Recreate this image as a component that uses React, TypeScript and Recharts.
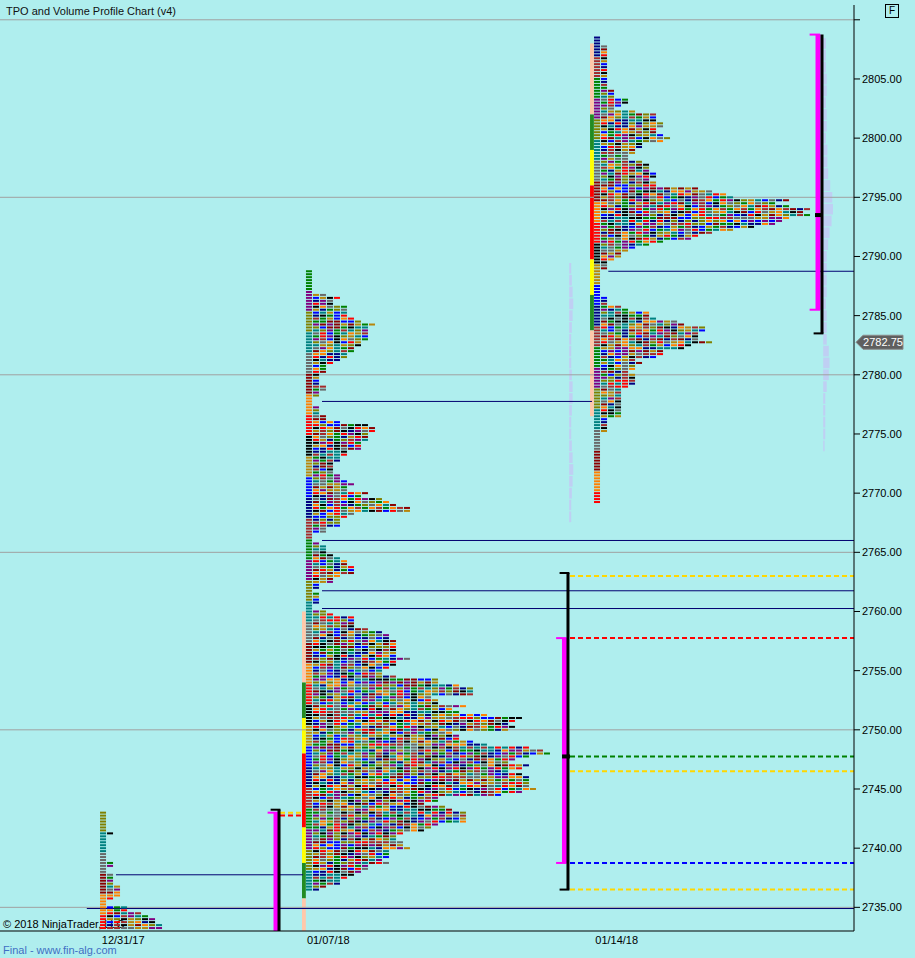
import { ComposedChart, Scatter, XAxis, YAxis, ReferenceLine, ReferenceArea } from "recharts";

const W = 915;
const H = 958;
const BG = "#AFEEEE";
const FONT = "'Liberation Sans', Arial, sans-serif";

// price scale
const PRICE_MIN = 2733;
const PRICE_MAX = 2811.25;
const TICK = 0.25;
const PRICE_TICKS = [2735, 2740, 2745, 2750, 2755, 2760, 2765, 2770, 2775, 2780, 2785, 2790, 2795, 2800, 2805, 2810];
const GRID_LEVELS = [2735, 2750, 2765, 2780, 2795, 2810];
const LAST_PRICE = 2782.75;

// x is measured in TPO columns
const X_MAX = 122;
const DATE_LABELS = ["12/31/17", "01/07/18", "01/14/18"];
const DATE_POS = [17.6, 46.9, 88.1];

// sessions: first TPO column and the highest price row
const SESSION_START = [14.29, 43.71, 84.86];
const SESSION_HIGH = [2743.0, 2788.75, 2808.5];

// TPO count per 0.25 row, top row first
const P1_ROWS = [1, 1, 1, 1, 1, 1, 1, 2, 1, 1, 1, 1, 1, 1, 1, 1, 1, 2, 2, 1, 1, 2, 2, 2, 2, 3, 3, 3, 3, 2, 1, 1, 4, 4, 6, 7, 8, 8, 9, 9];

const P2_ROWS = [
  1, 1, 1, 1, 1, 1, 1, 1, 3, 5, 4, 4, 6, 6, 6, 6, 7, 8, 10, 9, 9, 9, 9, 9, 8, 8, 7, 7, 6, 6, 5, 4, 3, 3, 3, 2, 2, 2, 2, 3, 3,
  2, 2, 1, 1, 1, 2, 2, 2, 3, 3, 5, 9, 10, 10, 9, 9, 9, 8, 8, 8, 6, 6, 5, 5, 4, 4, 4, 4, 5, 5, 6, 7, 6, 6, 9, 8, 11, 12, 13,
  15, 15, 7, 6, 5, 5, 5, 3, 3, 1, 1, 1, 2,
  3, 3, 3, 4, 5, 6, 6, 7, 7, 7, 5, 4, 4, 2, 2, 1, 2, 2, 2, 2, 1, 1,
  3, 4, 7, 7, 7, 7, 9, 11, 12, 12, 13, 13, 13, 13, 13, 13, 15, 13, 13, 12, 11, 11, 13, 19, 19, 22, 24, 24, 24, 18, 19, 19,
  23, 21, 22, 26, 31, 30, 29, 30, 29, 21, 22, 22, 24, 26, 32, 34, 35, 32, 30, 29, 32, 31, 29, 31, 32, 32, 32, 32, 33, 31,
  28, 19, 19, 17, 20, 21, 23, 23, 23, 23, 19, 18, 17, 14, 13, 13, 14, 14, 15, 12, 12, 12, 11, 12, 9, 9, 8, 7, 6, 5, 5, 3, 2,
];

const P3_ROWS = [
  1, 1, 1, 2, 2, 2, 2, 2, 2, 2, 2, 2, 2, 2, 2, 2, 2, 2, 3, 3, 3, 5, 5, 4, 3, 6, 9, 9, 9, 10, 10, 9, 9, 10, 11, 10, 7, 7, 6,
  6, 5, 5, 7, 8, 8, 8, 9, 9, 8, 9, 9, 15, 17, 19, 20, 28, 26, 28, 31, 30, 31, 28, 27, 26, 23, 20, 17, 15, 14, 10, 8, 6, 5,
  4, 4, 3, 2, 2, 2, 1, 1, 1, 1, 1, 1, 1, 1, 1, 2, 2, 2, 4, 5, 8, 8, 9, 12, 13, 16, 16, 15, 15, 15, 17, 14, 13, 10, 10, 9,
  6, 7, 6, 6, 5, 6, 6, 6, 6, 5, 4, 4, 4, 4, 4, 4, 4, 4, 4, 4, 2, 2, 2, 2, 2, 1, 1, 1, 1, 1, 1, 1, 1, 1, 1, 1, 1, 1, 1, 1,
  1, 1, 1, 1, 1, 1, 1, 1, 1,
];

// volume profile (in columns) per 1-point level, top level first
const VOL2_TOP = 2789;
const VOL2 = [0.3, 0.4, 0.5, 0.6, 0.5, 0.4, 0.3, 0.3, 0.3, 0.4, 0.5, 0.5, 0.4, 0.3, 0.3, 0.4, 0.5, 0.6, 0.5, 0.4, 0.3, 0.3];
const VOL3_TOP = 2808;
const VOL3 = [
  0.4, 0.4, 0.4, 0.5, 0.5, 0.4, 0.5, 0.5, 0.4, 0.6, 0.6, 0.7, 1.0, 1.3, 1.4, 1.2, 0.9, 0.7, 0.5, 0.5, 0.5, 0.5, 0.4, 0.5,
  0.5, 0.5, 0.8, 0.9, 0.8, 0.5, 0.3, 0.3, 0.3, 0.3, 0.2,
];
const VOL_START = [81.3, 117.6];

// opening / value area strip boundaries (price), top to bottom
const P2_STRIP = [2760, 2754, 2751, 2748, 2741.75, 2738.75, 2735.75, 2733];
const P3_STRIP = [2808, 2802, 2799, 2796, 2789.75, 2786.75, 2783.75, 2776.5];

// value area (magenta) and range (black) brackets: x, high, low
const VA_BRACKETS = [
  { x: 39.43, hi: 2743.0, lo: 2733 },
  { x: 80.64, hi: 2757.75, lo: 2738.75 },
  { x: 116.86, hi: 2808.75, lo: 2785.5 },
];
const RANGE_BRACKETS = [
  { x: 39.86, hi: 2743.25, lo: 2733 },
  { x: 81.14, hi: 2763.25, lo: 2736.5 },
  { x: 117.43, hi: 2808.75, lo: 2783.5 },
];

// dashed levels projected to the right
const P1_LEVELS = [2743.0, 2742.75];
const P2_LEVELS = [2763.0, 2757.75, 2747.75, 2746.5, 2738.75, 2736.5];

// untested (naked) levels
const NAKED_LEVELS = [
  { price: 2788.75, from: 86.9, to: X_MAX },
  { price: 2777.75, from: 46, to: 84.57 },
  { price: 2766.0, from: 46, to: X_MAX },
  { price: 2761.75, from: 46, to: X_MAX },
  { price: 2760.25, from: 46, to: X_MAX },
  { price: 2737.75, from: 16.57, to: 43.29 },
  { price: 2734.9, from: 12.4, to: X_MAX },
];

// POC markers
const POC_MARKS = [
  { price: 2747.75, from: 80.29, to: 81.43 },
  { price: 2793.5, from: 116.43, to: 117.57 },
];

const TPO_COLORS = [
  "#FF0000", "#808000", "#0000FF", "#8B0000", "#008000", "#000000", "#008080",
  "#000080", "#FF8000", "#800080", "#B8860B", "#696969", "#A52A2A",
];
const STRIP_COLORS = ["#FFC8AA", "#228B22", "#FFFF00", "#FF0000", "#FFFF00", "#228B22", "#FFC8AA"];
const P1_LEVEL_COLORS = ["#FFD700", "#FF0000"];
const P2_LEVEL_COLORS = ["#FFD700", "#FF0000", "#008000", "#FFD700", "#0000FF", "#FFD700"];

function cellColor(p: number, r: number, c: number) {
  if (c === 0) return TPO_COLORS[(Math.floor(r / 7) * 5 + p * 3 + 1) % TPO_COLORS.length];
  const h = (r * 37 + c * 61 + ((r * c) % 11) * 7 + p * 13) % TPO_COLORS.length;
  return TPO_COLORS[h];
}

function buildCells(p: number, rows: number[]) {
  const out: { x: number; y: number; fill: string }[] = [];
  rows.forEach((w, r) => {
    for (let c = 0; c < w; c++) {
      out.push({ x: SESSION_START[p] + c, y: SESSION_HIGH[p] - r * TICK, fill: cellColor(p, r, c) });
    }
  });
  return out;
}

const PROFILES = [P1_ROWS, P2_ROWS, P3_ROWS].map((rows, p) => buildCells(p, rows));

const Cell = (props: any) => {
  const { cx, cy, payload } = props;
  if (cx == null || cy == null) return null;
  return <rect x={cx} y={cy - 1} width={6} height={2} fill={payload.fill} />;
};

const PriceTag = (props: any) => {
  const vb = props.viewBox || {};
  const x0 = vb.x + vb.width + 2;
  const y0 = vb.y;
  return (
    <g>
      <polygon
        points={`${x0},${y0} ${x0 + 7},${y0 - 7} ${x0 + 47},${y0 - 7} ${x0 + 47},${y0 + 7} ${x0 + 7},${y0 + 7}`}
        fill="#5F5F5F"
        stroke="#8a8a8a"
        strokeWidth={1}
      />
      <text x={x0 + 27} y={y0 + 4} textAnchor="middle" fill="#fff" fontSize={11} fontFamily={FONT}>
        {LAST_PRICE.toFixed(2)}
      </text>
    </g>
  );
};

function stripAreas(start: number, bounds: number[], key: string) {
  return bounds.slice(0, -1).map((top, i) => (
    <ReferenceArea
      key={`${key}-${i}`}
      x1={start - 0.57}
      x2={start - 0.02}
      y1={bounds[i + 1]}
      y2={top}
      fill={STRIP_COLORS[i]}
      fillOpacity={1}
      stroke="none"
      ifOverflow="visible"
    />
  ));
}

function volumeAreas(start: number, top: number, vols: number[], key: string) {
  return vols.map((v, i) => (
    <ReferenceArea
      key={`${key}-${i}`}
      x1={start}
      x2={start + v}
      y1={top - i - 0.45}
      y2={top - i + 0.45}
      fill="#C4C4F4"
      fillOpacity={0.75}
      stroke="none"
      ifOverflow="visible"
    />
  ));
}

function seg(key: string, x1: number, x2: number, y1: number, y2: number, color: string, width: number, dash?: string) {
  return (
    <ReferenceLine
      key={key}
      segment={[
        { x: x1, y: y1 },
        { x: x2, y: y2 },
      ]}
      stroke={color}
      strokeWidth={width}
      strokeDasharray={dash}
      ifOverflow="visible"
    />
  );
}

export default function App() {
  return (
    <div style={{ position: "fixed", left: 0, top: 0, width: W, height: H, background: BG, fontFamily: FONT, overflow: "hidden" }}>
      <div style={{ position: "absolute", left: 6, top: 5, fontSize: 11, color: "#111" }}>TPO and Volume Profile Chart (v4)</div>
      <div
        style={{
          position: "absolute",
          left: 885,
          top: 4,
          width: 12,
          height: 12,
          border: "1px solid #000",
          fontSize: 10,
          lineHeight: "12px",
          textAlign: "center",
          color: "#000",
        }}
      >
        F
      </div>
      <div style={{ position: "absolute", left: 3, top: 918, fontSize: 11, color: "#000" }}>© 2018 NinjaTrader, LLC</div>
      <div style={{ position: "absolute", left: 3, top: 944, fontSize: 11, color: "#3f6fc4" }}>Final - www.fin-alg.com</div>
      <div style={{ position: "absolute", left: 0, top: 0 }}>
        <ComposedChart width={W} height={H} margin={{ top: 5, right: 0, bottom: 0, left: 0 }}>
          <XAxis
            type="number"
            dataKey="x"
            domain={[0, X_MAX]}
            ticks={DATE_POS}
            tickFormatter={(v: number) => DATE_LABELS[DATE_POS.indexOf(v)] ?? ""}
            tickLine={false}
            tickSize={3}
            tickMargin={2}
            height={27}
            axisLine={{ stroke: "#000" }}
            tick={{ fontSize: 11, fill: "#000", fontFamily: FONT }}
            allowDataOverflow
          />
          <YAxis
            type="number"
            dataKey="y"
            orientation="right"
            domain={[PRICE_MIN, PRICE_MAX]}
            ticks={PRICE_TICKS}
            tickFormatter={(v: number) => (v === 2810 ? "" : v.toFixed(2))}
            width={61}
            tickSize={6}
            tickMargin={2}
            axisLine={{ stroke: "#000" }}
            tickLine={{ stroke: "#000" }}
            tick={{ fontSize: 11, fill: "#000", fontFamily: FONT, textAnchor: "start" }}
            allowDataOverflow
          />
          {GRID_LEVELS.map((g) => (
            <ReferenceLine key={`g${g}`} y={g} stroke="#A0A0A0" strokeWidth={1} />
          ))}
          {volumeAreas(VOL_START[0], VOL2_TOP, VOL2, "v2")}
          {volumeAreas(VOL_START[1], VOL3_TOP, VOL3, "v3")}
          {stripAreas(SESSION_START[1], P2_STRIP, "s2")}
          {stripAreas(SESSION_START[2], P3_STRIP, "s3")}
          {PROFILES.map((cells, i) => (
            <Scatter key={`p${i}`} data={cells} shape={<Cell />} isAnimationActive={false} />
          ))}
          {NAKED_LEVELS.map((l, i) => seg(`n${i}`, l.from, l.to, l.price, l.price, "#000070", 1))}
          {P1_LEVELS.map((p, i) => seg(`l1${i}`, 40, 43.29, p, p, P1_LEVEL_COLORS[i], 2, "5 3"))}
          {P2_LEVELS.map((p, i) => seg(`l2${i}`, 81.43, X_MAX, p, p, P2_LEVEL_COLORS[i], 2, "5 3"))}
          {VA_BRACKETS.map((b, i) => seg(`va${i}`, b.x, b.x, b.lo, b.hi, "#FF00FF", 5))}
          {VA_BRACKETS.map((b, i) => seg(`vat${i}`, b.x - 1.2, b.x + 0.3, b.hi, b.hi, "#FF00FF", 2))}
          {VA_BRACKETS.filter((b) => b.lo > PRICE_MIN).map((b, i) => seg(`vab${i}`, b.x - 1.2, b.x + 0.3, b.lo, b.lo, "#FF00FF", 2))}
          {RANGE_BRACKETS.map((b, i) => seg(`rg${i}`, b.x, b.x, b.lo, b.hi, "#000", 3))}
          {RANGE_BRACKETS.slice(0, 2).map((b, i) => seg(`rgt${i}`, b.x - 1.2, b.x + 0.2, b.hi, b.hi, "#000", 2))}
          {RANGE_BRACKETS.filter((b) => b.lo > PRICE_MIN).map((b, i) => seg(`rgb${i}`, b.x - 1.2, b.x + 0.2, b.lo, b.lo, "#000", 2))}
          {POC_MARKS.map((m, i) => seg(`poc${i}`, m.from, m.to, m.price, m.price, "#000", 4))}
          <ReferenceLine y={LAST_PRICE} stroke="none" label={<PriceTag />} ifOverflow="visible" />
        </ComposedChart>
      </div>
    </div>
  );
}
